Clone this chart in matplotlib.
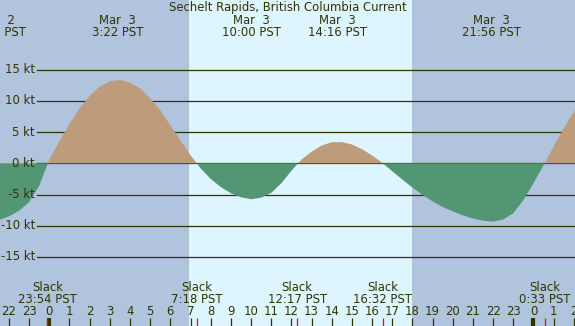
import numpy as np
import matplotlib.pyplot as plt

# current speed (kt) every half hour, hours relative to Mar 3 00:00 PST
hours = np.arange(-3.0, 27.0, 0.5)
speed = [-9.0, -9.1, -8.5, -7.6, -6.2, -3.6, 0.6,
         3.5, 6.3, 8.8, 10.8, 12.3, 13.15, 13.35, 12.9, 12.0, 10.4,
         8.5, 6.1, 3.7, 1.3, -0.8, -2.5, -3.8, -4.8, -5.45, -5.75,
         -5.5, -4.75, -3.2, -1.2, 0.6, 1.85, 2.85, 3.37, 3.4, 3.02,
         2.27, 1.26, 0.1, -1.27, -2.6, -3.88, -5.05, -6.1, -7.0, -7.7,
         -8.35, -8.85, -9.2, -9.35, -9.0, -8.0, -5.9, -3.2, -0.3, 2.7,
         5.6, 8.2, 10.4]

# max flood / max ebb events (top labels)
peak_hours = [-2.6, 3.367, 10.0, 14.267, 21.933]
peak_dates = ["Mar  2", "Mar  3", "Mar  3", "Mar  3", "Mar  3"]
peak_times = ["21:24 PST", "3:22 PST", "10:00 PST", "14:16 PST", "21:56 PST"]

# slack water events (bottom labels)
slack_hours = [-0.1, 7.3, 12.283, 16.533, 24.55]
slack_times = ["23:54 PST", "7:18 PST", "12:17 PST", "16:32 PST", "0:33 PST"]

sunrise, sunset = 6.93, 17.98
kt_levels = [15, 10, 5, 0, -5, -10, -15]
hour_ticks = list(range(-2, 27))
midnights = [0, 24]

title = "Sechelt Rapids, British Columbia Current"

night_col = "#b0c4de"
day_col = "#ddf5ff"
flood_col = "#bd9b7b"
ebb_col = "#529673"
ink = "#333300"

plt.rcParams['font.family'] = ['DejaVu Sans']
fs = 8.4

fig = plt.figure(figsize=(5.75, 3.26), dpi=100)
ax = fig.add_axes([0, 0, 1, 1])
ax.set_xlim(-2.444, 26.06)
ax.set_ylim(-26.07, 26.17)
ax.axis('off')
ax.add_patch(plt.Rectangle((0, 0), 1, 1, transform=ax.transAxes, color=night_col, zorder=0))

ax.axvspan(sunrise, sunset, color=day_col, zorder=1, lw=0)

# kt grid lines + labels
for k in kt_levels:
    ax.plot([-0.61, 26.06], [k, k], color=ink, lw=0.9, zorder=2)
    ax.text(-0.71, k, "%d kt" % k, ha='right', va='center', fontsize=fs, color=ink, zorder=5)

h = np.array(hours)
v = np.array(speed)
ax.fill_between(h, 0, v, where=v >= 0, interpolate=True, color=flood_col, lw=0, zorder=3)
ax.fill_between(h, 0, v, where=v <= 0, interpolate=True, color=ebb_col, lw=0, zorder=3)

# top: title and max current times
ax.text(11.8, 24.97, title, ha='center', va='center', fontsize=fs, color=ink, zorder=6)
for ph, d, t in zip(peak_hours, peak_dates, peak_times):
    ax.text(ph, 22.96, d, ha='center', va='center', fontsize=fs, color=ink, zorder=6)
    ax.text(ph, 21.04, t, ha='center', va='center', fontsize=fs, color=ink, zorder=6)

# bottom: slack times
for sh, t in zip(slack_hours, slack_times):
    ax.text(sh, -19.87, "Slack", ha='center', va='center', fontsize=fs, color=ink, zorder=6)
    ax.text(sh, -21.8, t, ha='center', va='center', fontsize=fs, color=ink, zorder=6)

# hour ticks
for hr in hour_ticks:
    ax.text(hr, -23.8, str(hr % 24), ha='center', va='center', fontsize=fs, color=ink, zorder=6)
    lw = 3.0 if hr in midnights else 0.9
    ax.plot([hr, hr], [-24.8, -26.07], color=ink, lw=lw, zorder=5, solid_capstyle='butt')
for sh in slack_hours:
    ax.plot([sh, sh], [-24.8, -26.07], color='red', lw=0.9, zorder=6, solid_capstyle='butt')

fig.savefig("out.png", dpi=100)
